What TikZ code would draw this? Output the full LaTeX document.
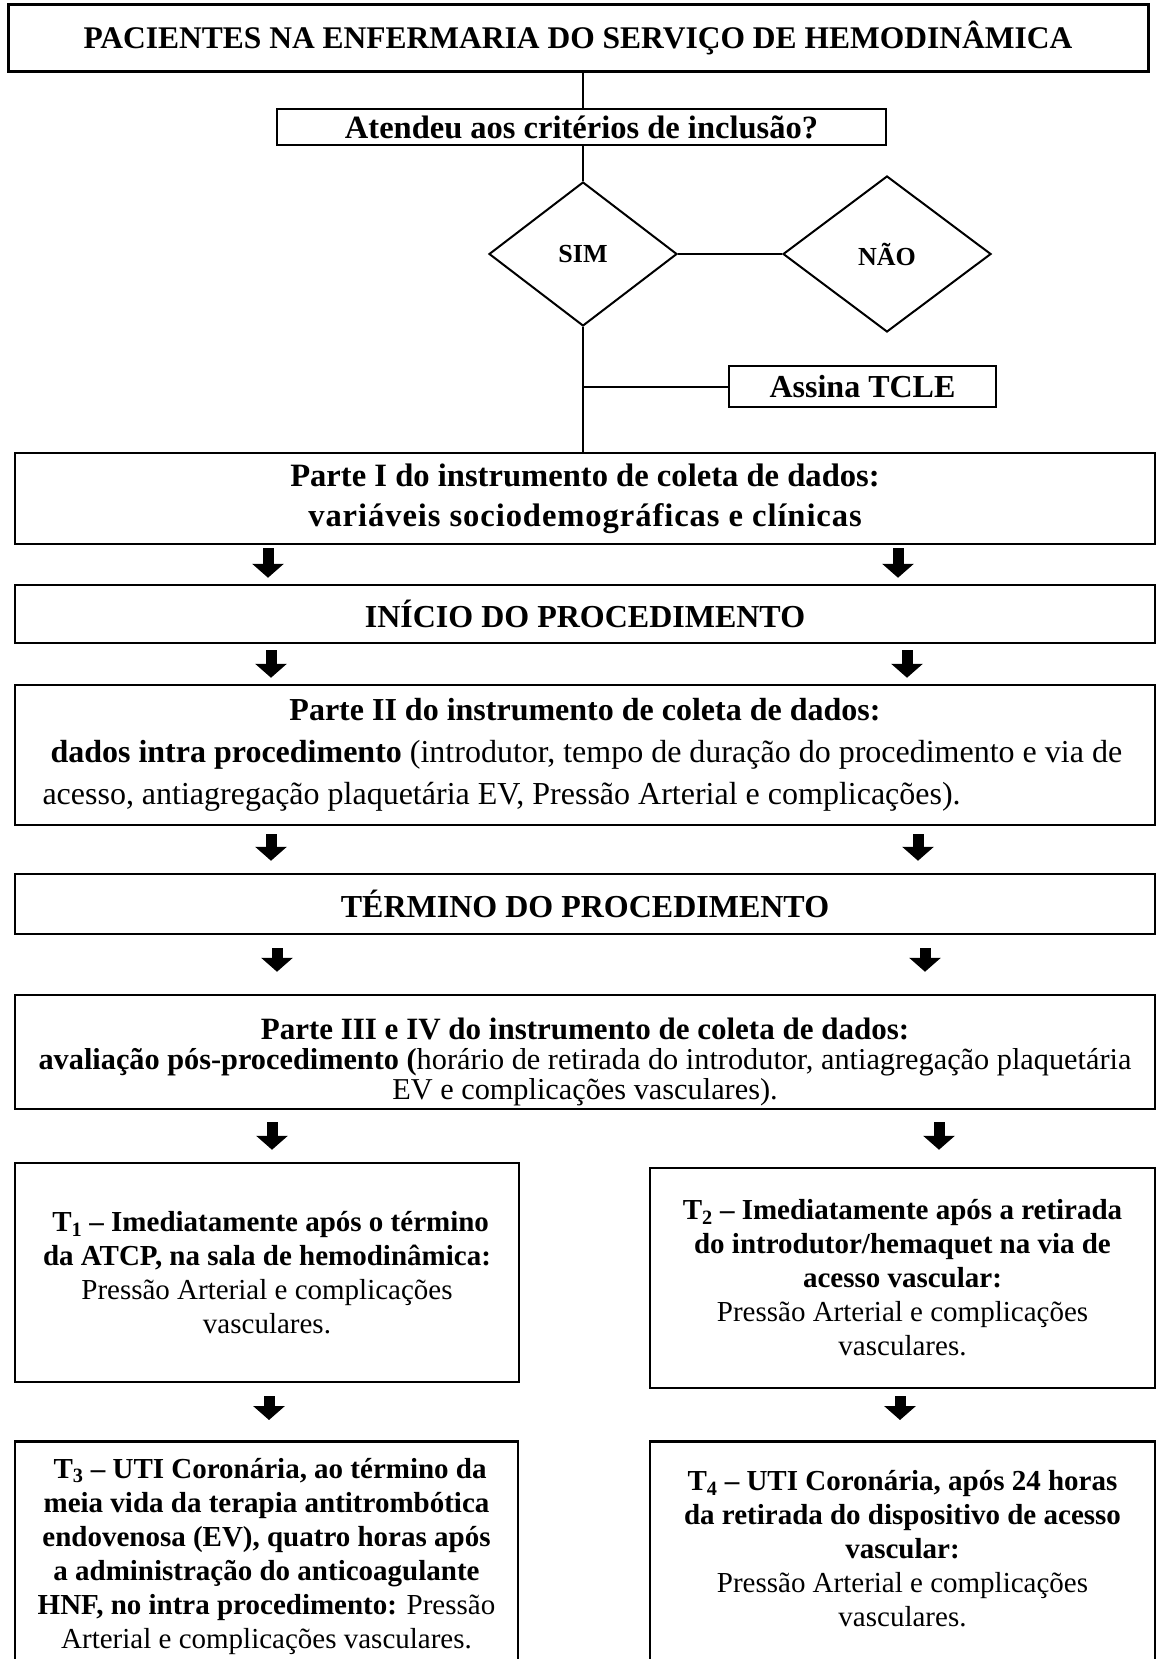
\documentclass[tikz,border=0pt]{standalone}
\usepackage{fontspec}
\setmainfont{Liberation Serif}
\usetikzlibrary{arrows.meta,shapes.geometric,calc}

\tikzset{
  box/.style={draw, line width=2.5pt, inner sep=0pt},
  choice/.style={draw, diamond, line width=2pt, inner sep=0pt, font=\bfseries\fontsize{26}{30}\selectfont},
  link/.style={line width=2pt},
  bigarrow/.style={line width=11pt, -{Triangle[width=31pt,length=14pt]}},
  head/.style={font=\bfseries\fontsize{32}{36}\selectfont},
  body/.style={align=center, font=\fontsize{29}{34}\selectfont}
}

\begin{document}
\begin{tikzpicture}[x=1pt,y=-1pt]
\useasboundingbox (0,0) rectangle (1156,1659);
\node[box, font=\bfseries\fontsize{31.5}{36}\selectfont, line width=3pt, minimum width=1140pt, minimum height=67pt] (top) at (578,38.5) {PACIENTES NA ENFERMARIA DO SERVIÇO DE HEMODINÂMICA};
\node[box, font=\bfseries\fontsize{32.5}{36}\selectfont, minimum width=609pt, minimum height=36pt] (q) at (581.5,127) {Atendeu aos critérios de inclusão?};
\node[choice, minimum width=188pt, minimum height=144pt] (sim) at (583,254) {SIM};
\node[choice, minimum width=208pt, minimum height=156pt] (nao) at (887,254) {NÃO};
\node[box, head, minimum width=267pt, minimum height=41pt] (tcle) at (862.5,386.5) {Assina TCLE};
\node[box, align=center, font=\bfseries\fontsize{32.6}{40}\selectfont, minimum width=1140pt, minimum height=91pt] (p1) at (585,498.5)
  {Parte I do instrumento de coleta de dados:\\ \addfontfeature{LetterSpace=2.8}variáveis sociodemográficas e clínicas};
\node[box, head, minimum width=1140pt, minimum height=58pt] (ini) at (585,614) {INÍCIO DO PROCEDIMENTO};
\node[box, align=left, font=\fontsize{32}{42}\selectfont, minimum width=1140pt, minimum height=140pt] (p2) at (585,755)
  {\makebox[1085pt][c]{\bfseries Parte II do instrumento de coleta de dados:}\\
   \hspace*{8pt}\textbf{dados intra procedimento} (introdutor, tempo de duração do procedimento e via de\\
   acesso, antiagregação plaquetária EV, Pressão Arterial e complicações).};
\node[box, head, minimum width=1140pt, minimum height=60pt] (ter) at (585,904) {TÉRMINO DO PROCEDIMENTO};
\node[box, align=center, font=\fontsize{30.3}{30}\selectfont, minimum width=1140pt, minimum height=114pt] (p3) at (585,1052)
  {\rule{0pt}{41pt}{\bfseries\fontsize{31}{30}\selectfont Parte III e IV do instrumento de coleta de dados:}\\
   \textbf{avaliação pós-procedimento (}horário de retirada do introdutor, antiagregação plaquetária\\
   EV e complicações vasculares).};
\node[box, body, minimum width=504pt, minimum height=219pt] (t1) at (267,1272.5)
  {\textbf{\ T\textsubscript{1} – Imediatamente após o término}\\
   \textbf{da ATCP, na sala de hemodinâmica:}\\
   Pressão Arterial e complicações\\ vasculares.};
\node[box, body, minimum width=505pt, minimum height=220pt] (t2) at (902.5,1278)
  {\textbf{T\textsubscript{2} – Imediatamente após a retirada}\\
   \textbf{do introdutor/hemaquet na via de}\\
   \textbf{acesso vascular:}\\
   Pressão Arterial e complicações\\ vasculares.};
\node[box, anchor=north, minimum width=503pt, minimum height=260pt] (t3) at (266.5,1440) {};
\node[body] (t3txt) at ($(t3.north)+(0,116)$)
  {\textbf{\ T\textsubscript{3} – UTI Coronária, ao término da}\\
   \textbf{meia vida da terapia antitrombótica}\\
   \textbf{endovenosa (EV), quatro horas após}\\
   \textbf{a administração do anticoagulante}\\
   \textbf{HNF, no intra procedimento:} Pressão\\
   Arterial e complicações vasculares.};
\node[box, anchor=north, minimum width=505pt, minimum height=260pt] (t4) at (902.5,1440) {};
\node[body] (t4txt) at ($(t4.north)+(0,109)$)
  {\textbf{T\textsubscript{4} – UTI Coronária, após 24 horas}\\
   \textbf{da retirada do dispositivo de acesso}\\
   \textbf{vascular:}\\
   Pressão Arterial e complicações\\ vasculares.};

\draw[link] (top.south -| sim.north) -- (q.north -| sim.north);
\draw[link] (q.south -| sim.north) -- (sim.north);
\draw[link] (sim.east) -- (nao.west);
\coordinate (br) at (sim.south |- tcle.west);
\draw[link] (sim.south) -- (p1.north -| sim.south);
\draw[link] (br) -- (tcle.west);

\foreach \a/\b/\x/\g/\h in {p1/ini/268/3/6, p1/ini/898/3/6, ini/p2/271/6/6, ini/p2/907/6/6,
  p2/ter/271/8/12, p2/ter/918/8/12, ter/p3/277/13/22, ter/p3/925/13/22,
  p3/t1/272/12/12, p3/t2/939/12/17, t1/t3/269/13/20, t2/t4/900/7/20}
  \draw[bigarrow, shorten <=\g pt, shorten >=\h pt] (\x,0 |- \a.south) -- (\x,0 |- \b.north);
\end{tikzpicture}
\end{document}
